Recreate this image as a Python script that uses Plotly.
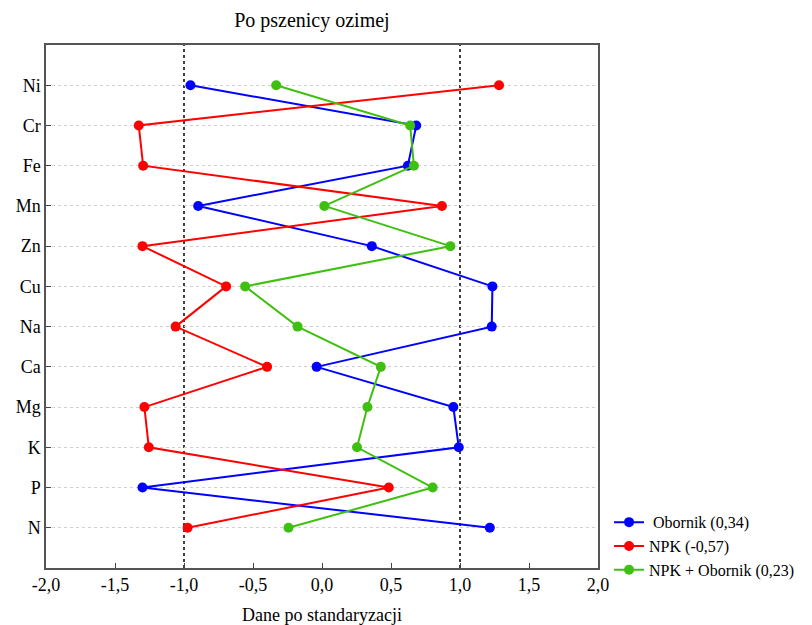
import plotly.graph_objects as go

categories = ["N", "P", "K", "Mg", "Ca", "Na", "Cu", "Zn", "Mn", "Fe", "Cr", "Ni"]
obornik = [1.216, -1.301, 0.991, 0.952, -0.039, 1.230, 1.235, 0.361, -0.897, 0.622, 0.683, -0.953]
npk = [-0.974, 0.484, -1.255, -1.287, -0.398, -1.061, -0.695, -1.301, 0.869, -1.296, -1.328, 1.283]
npk_obornik = [-0.243, 0.802, 0.254, 0.329, 0.426, -0.177, -0.557, 0.930, 0.017, 0.666, 0.639, -0.332]
series_names = [" Obornik (0,34)", "NPK (-0,57)", "NPK + Obornik (0,23)"]
x_tickvals = [-2.0, -1.5, -1.0, -0.5, 0.0, 0.5, 1.0, 1.5, 2.0]
x_ticktext = ["-2,0", "-1,5", "-1,0", "-0,5", "0,0", "0,5", "1,0", "1,5", "2,0"]
ref_lines = [-1.0, 1.0]

colors = ["#0000ff", "#ff0000", "#3fc010"]
FAM = "Times New Roman, Liberation Serif, serif"

fig = go.Figure()
for vals, name, col in zip([obornik, npk, npk_obornik], series_names, colors):
    fig.add_trace(go.Scatter(
        x=vals, y=categories, mode="lines+markers", name=name,
        line=dict(color=col, width=2), marker=dict(color=col, size=10),
    ))

for xv in ref_lines:
    fig.add_shape(type="line", xref="x", yref="paper", x0=xv, x1=xv, y0=0, y1=1,
                  line=dict(color="black", width=1.5, dash="dot"), layer="below")

fig.update_layout(
    template="none",
    width=804, height=617,
    margin=dict(l=38, r=214, t=37, b=57, pad=0, autoexpand=False),
    paper_bgcolor="white", plot_bgcolor="white",
    font=dict(family=FAM, size=18, color="black"),
    title=dict(text="Po pszenicy ozimej", x=0.378, xanchor="center", y=0.98, yanchor="middle",
               font=dict(family=FAM, size=20, color="black")),
    showlegend=True,
    legend=dict(x=1.02, xanchor="left", y=0.12, yanchor="top", bgcolor="rgba(0,0,0,0)",
                font=dict(family=FAM, size=16, color="black"), tracegroupgap=0, itemwidth=30),
    xaxis=dict(range=[-2, 2], tickvals=x_tickvals, ticktext=x_ticktext, showgrid=False,
               zeroline=False, ticks="inside", ticklen=5, tickcolor="#444",
               tickfont=dict(family=FAM, size=18, color="black"),
               showline=True, mirror=True, linecolor="#555", linewidth=1.5,
               title=dict(text="Dane po standaryzacji", standoff=15,
                          font=dict(family=FAM, size=18, color="black"))),
    yaxis=dict(type="category", categoryorder="array", categoryarray=categories,
               range=[-1, 12], showgrid=True, gridcolor="#d0d0d0", griddash="dot", gridwidth=1,
               ticks="inside", ticklen=5, tickcolor="#444", zeroline=False,
               tickfont=dict(family=FAM, size=18, color="black"),
               showline=True, mirror=True, linecolor="#555", linewidth=1.5),
)

fig.write_html("out.html")
